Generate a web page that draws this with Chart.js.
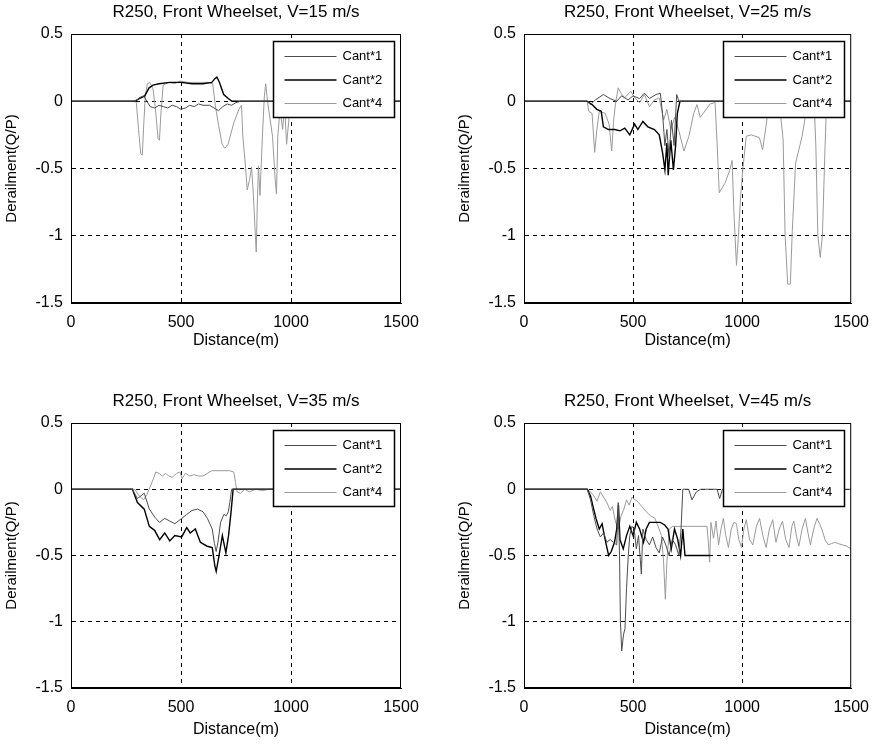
<!DOCTYPE html>
<html>
<head>
<meta charset="utf-8">
<script src="https://cdn.jsdelivr.net/npm/chart.js@4.4.1/dist/chart.umd.min.js"></script>
<style>
  html, body { margin: 0; padding: 0; background: #fff; overflow: hidden; }
  canvas { position: absolute; }
  #c15 { left: 0px; top: 0px; }
  #c25 { left: 453px; top: 0px; }
  #c35 { left: 0px; top: 389px; }
  #c45 { left: 453px; top: 389px; }
</style>
</head>
<body>
<canvas id="c15" width="430" height="352"></canvas>
<canvas id="c25" width="426" height="352"></canvas>
<canvas id="c35" width="430" height="352"></canvas>
<canvas id="c45" width="426" height="352"></canvas>
<script>
const titles = [
  'R250, Front Wheelset, V=15 m/s',
  'R250, Front Wheelset, V=25 m/s',
  'R250, Front Wheelset, V=35 m/s',
  'R250, Front Wheelset, V=45 m/s'
];
const seriesLabels = ['Cant*1', 'Cant*2', 'Cant*4'];
const xTicks = [0, 500, 1000, 1500];
const yTicks = [-1.5, -1, -0.5, 0, 0.5];
const xTitle = 'Distance(m)';
const yTitle = 'Derailment(Q/P)';

// [distance (m), Q/P]
const v15Cant1 = [[0,0],[285,0],[300,0.01],[315,0.03],[330,0.04],[345,0],[360,-0.04],[380,-0.05],[400,-0.03],[420,-0.04],[440,-0.05],[460,-0.03],[480,-0.04],[500,-0.06],[520,-0.05],[540,-0.03],[560,-0.04],[580,-0.02],[600,-0.03],[630,-0.03],[650,-0.05],[670,-0.07],[690,-0.04],[710,-0.02],[730,-0.03],[750,-0.01],[770,0],[1500,0]];
const v15Cant2 = [[0,0],[290,0],[310,0.02],[335,0.04],[355,0.1],[373,0.12],[400,0.13],[450,0.14],[500,0.14],[550,0.13],[600,0.13],[640,0.14],[655,0.17],[663,0.18],[675,0.14],[694,0.05],[715,0.02],[732,0],[1500,0]];
const v15Cant4 = [[0,0],[289,0],[297,-0.01],[307,-0.21],[317,-0.39],[324,-0.4],[332,-0.13],[338,0.04],[347,0.13],[358,0.14],[373,0.09],[384,-0.06],[396,-0.28],[402,-0.29],[408,-0.11],[419,0.12],[442,0.14],[472,0.13],[495,0.15],[534,0.14],[580,0.14],[625,0.14],[644,0.13],[656,-0.03],[671,-0.18],[687,-0.32],[699,-0.35],[714,-0.32],[740,-0.16],[763,-0.06],[775,-0.03],[781,-0.26],[794,-0.5],[801,-0.66],[812,-0.58],[821,-0.49],[829,-0.7],[836,-0.93],[842,-1.12],[847,-0.75],[852,-0.48],[859,-0.7],[870,-0.26],[879,0.04],[885,0.13],[894,-0.01],[916,-0.26],[928,-0.58],[934,-0.69],[940,-0.26],[950,-0.06],[962,-0.21],[971,-0.03],[980,-0.32],[989,-0.16],[997,-0.01],[1010,0],[1500,0]];

const v25Cant1 = [[0,0],[289,0],[304,-0.025],[327,0.01],[364,0.05],[394,0.02],[425,0],[447,0.04],[477,0.01],[500,0.04],[530,0.02],[552,0.06],[575,0.02],[605,0.05],[625,0.06],[635,-0.09],[646,-0.33],[655,-0.21],[665,-0.41],[676,-0.14],[688,-0.33],[700,0.05],[710,0],[1500,0]];
const v25Cant2 = [[0,0],[289,0],[312,-0.025],[334,-0.06],[354,-0.075],[364,-0.19],[387,-0.21],[417,-0.21],[440,-0.22],[462,-0.2],[485,-0.25],[507,-0.17],[522,-0.21],[545,-0.15],[568,-0.19],[598,-0.21],[620,-0.25],[635,-0.38],[646,-0.51],[655,-0.31],[661,-0.55],[673,-0.29],[685,-0.51],[695,-0.33],[703,-0.09],[715,0],[1500,0]];
const v25Cant4 = [[0,0],[289,0],[297,-0.075],[312,-0.09],[324,-0.38],[334,-0.21],[345,-0.075],[372,-0.09],[390,-0.17],[402,-0.37],[411,-0.14],[420,-0.01],[432,0.1],[444,0.06],[462,0.025],[489,0.075],[507,0.025],[530,-0.01],[552,0.05],[575,-0.04],[598,0.01],[620,0.025],[640,-0.14],[655,-0.06],[673,-0.21],[691,-0.12],[710,-0.22],[733,-0.37],[756,-0.26],[778,-0.09],[793,-0.025],[808,-0.12],[853,-0.02],[876,-0.01],[886,-0.34],[895,-0.68],[921,-0.61],[944,-0.51],[954,-0.44],[962,-0.82],[974,-1.22],[983,-1.0],[993,-0.71],[1004,-0.49],[1019,-0.26],[1042,-0.25],[1079,-0.27],[1094,-0.36],[1109,-0.19],[1117,-0.09],[1140,0],[1170,0],[1188,-0.29],[1197,-1.0],[1209,-1.36],[1221,-1.36],[1230,-0.96],[1245,-0.46],[1275,-0.26],[1290,-0.11],[1310,0],[1330,0],[1338,-0.34],[1347,-1.0],[1358,-1.16],[1368,-1.0],[1380,-0.34],[1385,-0.11],[1400,0],[1500,0]];

const v35Cant1 = [[0,0],[279,0],[302,-0.07],[333,-0.03],[356,-0.15],[385,-0.22],[403,-0.25],[426,-0.22],[449,-0.24],[472,-0.26],[503,-0.22],[526,-0.19],[550,-0.16],[575,-0.15],[600,-0.17],[620,-0.22],[642,-0.3],[652,-0.41],[660,-0.47],[668,-0.4],[680,-0.25],[695,-0.19],[706,-0.2],[715,-0.17],[722,-0.1],[730,0],[1500,0]];
const v35Cant2 = [[0,0],[279,0],[302,-0.1],[333,-0.15],[356,-0.28],[380,-0.31],[403,-0.38],[426,-0.33],[449,-0.39],[472,-0.35],[503,-0.36],[526,-0.29],[542,-0.33],[565,-0.3],[588,-0.4],[619,-0.43],[642,-0.44],[654,-0.58],[660,-0.62],[673,-0.5],[688,-0.35],[704,-0.48],[716,-0.35],[727,-0.18],[737,0],[1500,0]];
const v35Cant4 = [[0,0],[290,0],[310,-0.05],[330,-0.08],[345,-0.04],[360,0.02],[375,0.08],[385,0.13],[400,0.12],[415,0.1],[430,0.12],[445,0.1],[460,0.09],[480,0.12],[495,0.13],[505,0.08],[520,0.12],[540,0.1],[560,0.11],[580,0.1],[600,0.1],[620,0.12],[640,0.14],[680,0.14],[720,0.14],[740,0.13],[748,0.05],[755,-0.02],[770,-0.03],[790,0],[810,-0.02],[840,0],[870,-0.01],[900,0],[1500,0]];

const v45Cant1 = [[0,0],[290,0],[305,-0.08],[320,-0.2],[335,-0.3],[350,-0.36],[365,-0.33],[380,-0.4],[395,-0.38],[410,-0.4],[425,-0.42],[432,-0.1],[438,-0.5],[442,-1.0],[448,-1.22],[456,-1.1],[463,-1.05],[470,-0.75],[478,-0.5],[485,-0.35],[495,-0.28],[505,-0.3],[515,-0.45],[525,-0.35],[538,-0.64],[545,-0.3],[560,-0.38],[575,-0.42],[590,-0.36],[605,-0.44],[620,-0.48],[635,-0.36],[650,-0.42],[665,-0.5],[680,-0.38],[695,-0.42],[710,-0.5],[720,-0.3],[728,0],[755,0],[770,-0.08],[790,-0.02],[810,0],[885,0],[897,-0.07],[910,0],[1500,0]];
const v45Cant2 = [[0,0],[290,0],[305,-0.05],[318,-0.14],[330,-0.22],[345,-0.3],[358,-0.26],[372,-0.38],[388,-0.5],[400,-0.47],[415,-0.4],[425,-0.3],[433,-0.12],[440,-0.38],[455,-0.45],[470,-0.35],[485,-0.28],[500,-0.35],[515,-0.25],[530,-0.3],[548,-0.4],[560,-0.3],[575,-0.25],[600,-0.25],[625,-0.25],[645,-0.27],[660,-0.3],[675,-0.45],[690,-0.3],[705,-0.38],[718,-0.5],[728,-0.3],[738,-0.5],[760,-0.5],[800,-0.5],[830,-0.5],[855,-0.5]];
const v45Cant4 = [[0,0],[290,0],[305,-0.02],[320,-0.05],[335,-0.09],[350,-0.02],[365,-0.06],[380,-0.1],[395,-0.16],[405,-0.13],[420,-0.25],[433,-0.3],[445,-0.2],[458,-0.15],[470,-0.08],[482,-0.12],[495,-0.06],[510,-0.08],[525,-0.1],[540,-0.13],[560,-0.17],[580,-0.2],[600,-0.22],[615,-0.28],[630,-0.35],[640,-0.55],[648,-0.83],[655,-0.55],[666,-0.3],[681,-0.28],[720,-0.28],[780,-0.28],[839,-0.28],[845,-0.4],[851,-0.55],[857,-0.25],[869,-0.37],[880,-0.24],[892,-0.42],[903,-0.3],[914,-0.22],[925,-0.35],[937,-0.44],[950,-0.3],[962,-0.25],[974,-0.26],[985,-0.38],[997,-0.44],[1008,-0.3],[1019,-0.23],[1034,-0.38],[1049,-0.42],[1065,-0.28],[1080,-0.22],[1095,-0.35],[1110,-0.44],[1125,-0.3],[1140,-0.23],[1155,-0.4],[1170,-0.3],[1185,-0.24],[1200,-0.38],[1215,-0.44],[1228,-0.28],[1237,-0.24],[1250,-0.36],[1260,-0.43],[1275,-0.3],[1290,-0.22],[1302,-0.33],[1313,-0.42],[1328,-0.3],[1343,-0.22],[1355,-0.26],[1365,-0.3],[1380,-0.38],[1395,-0.42],[1410,-0.41],[1425,-0.4],[1440,-0.41],[1460,-0.42],[1480,-0.43],[1500,-0.45]];

const lineColors = ['#4d4d4d', '#000000', '#9a9a9a'];
const lineWidths = [1, 1.4, 1];

Chart.defaults.font.family = '"Liberation Sans", Arial, sans-serif';
Chart.defaults.color = '#000';

// matlab style frame + legend box inside the axes
const axesBox = {
  id: 'axesBox',
  afterDraw(chart) {
    const { ctx, chartArea: a } = chart;
    ctx.save();
    ctx.setLineDash([]);
    ctx.strokeStyle = '#000';
    ctx.lineWidth = 1;
    ctx.strokeRect(a.left + 0.5, a.top + 0.5, a.right - a.left - 1, a.bottom - a.top - 1);

    const w = 121, h = 76;
    const x = Math.round(a.right - 7 - w) + 0.5;
    const y = Math.round(a.top + 7) + 0.5;
    ctx.fillStyle = '#fff';
    ctx.fillRect(x, y, w, h);
    ctx.lineWidth = 1.5;
    ctx.strokeRect(x, y, w, h);
    ctx.font = '13px "Liberation Sans", Arial, sans-serif';
    ctx.textBaseline = 'middle';
    chart.data.datasets.forEach((ds, i) => {
      const ry = y + 15 + i * 23.5;
      ctx.strokeStyle = ds.borderColor;
      ctx.lineWidth = ds.borderWidth;
      ctx.beginPath();
      ctx.moveTo(x + 11, ry);
      ctx.lineTo(x + 63, ry);
      ctx.stroke();
      ctx.fillStyle = '#000';
      ctx.fillText(ds.label, x + 69, ry);
    });
    ctx.restore();
  }
};

const gridColor = (ticks) => (c) => {
  if (!c.tick) return 'transparent';
  const v = c.tick.value;
  return (v === ticks[0] || v === ticks[ticks.length - 1]) ? 'transparent' : '#000';
};

function makeChart(id, title, series, rightPad, xAxisH) {
  return new Chart(document.getElementById(id), {
    type: 'line',
    data: {
      datasets: series.map((pts, i) => ({
        label: seriesLabels[i],
        data: pts.map(p => ({ x: p[0], y: p[1] })),
        borderColor: lineColors[i],
        borderWidth: lineWidths[i],
        pointRadius: 0,
        tension: 0,
        fill: false
      }))
    },
    options: {
      responsive: false,
      animation: false,
      layout: { padding: { left: 0, right: rightPad, top: 0, bottom: 0 } },
      plugins: {
        legend: { display: false },
        tooltip: { enabled: false },
        title: {
          display: true,
          text: title,
          fullSize: false,
          color: '#000',
          font: { size: 17, weight: 'normal' },
          padding: { top: 2, bottom: 11.6 }
        }
      },
      scales: {
        x: {
          type: 'linear',
          min: xTicks[0],
          max: xTicks[xTicks.length - 1],
          afterBuildTicks: s => { s.ticks = xTicks.map(v => ({ value: v })); },
          afterFit: s => { s.height = xAxisH; },
          ticks: { font: { size: 16 }, padding: 10, color: '#000', maxRotation: 0, callback: v => String(v) },
          grid: { color: gridColor(xTicks), drawTicks: false, lineWidth: 1 },
          border: { display: true, color: '#000', width: 1, dash: [4, 4] },
          title: { display: true, text: xTitle, font: { size: 16 }, padding: { top: 0, bottom: 2 }, color: '#000' }
        },
        y: {
          min: yTicks[0],
          max: yTicks[yTicks.length - 1],
          afterBuildTicks: s => { s.ticks = yTicks.map(v => ({ value: v })); },
          afterFit: s => { s.width = 71; },
          ticks: { font: { size: 16 }, padding: 8, color: '#000', callback: v => String(v) },
          grid: { color: gridColor(yTicks), drawTicks: false, lineWidth: 1 },
          border: { display: true, color: '#000', width: 1, dash: [4, 4] },
          title: { display: true, text: yTitle, font: { size: 15 }, padding: { top: 3, bottom: 0 }, color: '#000' }
        }
      }
    },
    plugins: [axesBox]
  });
}

makeChart('c15', titles[0], [v15Cant1, v15Cant2, v15Cant4], 29, 49);
makeChart('c25', titles[1], [v25Cant1, v25Cant2, v25Cant4], 22, 49);
makeChart('c35', titles[2], [v35Cant1, v35Cant2, v35Cant4], 29, 53);
makeChart('c45', titles[3], [v45Cant1, v45Cant2, v45Cant4], 22, 53);
</script>
</body>
</html>
